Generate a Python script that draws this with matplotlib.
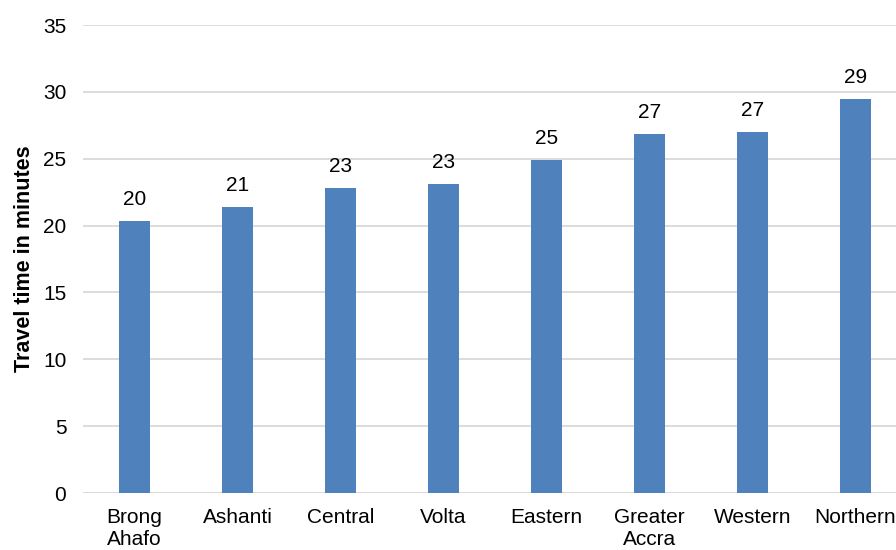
import matplotlib
matplotlib.use('Agg')
import matplotlib.pyplot as plt
import numpy as np

# --- Data ---
regions = ["Brong\nAhafo", "Ashanti", "Central", "Volta", "Eastern",
           "Greater\nAccra", "Western", "Northern"]
travel_time = [20.35, 21.4, 22.8, 23.1, 24.9, 26.85, 27.0, 29.45]
y_ticks = [0, 5, 10, 15, 20, 25, 30, 35]

BAR_COLOR = '#4f81bd'
GRID_COLOR = '#d9d9d9'
FS = 15

plt.rcParams['font.family'] = ['Liberation Sans', 'DejaVu Sans']

fig = plt.figure(figsize=(8.96, 5.5), dpi=100)
ax = fig.add_axes([0.0926, 0.1036, 0.9197, 0.8509])

x = np.arange(len(regions))
ax.bar(x, travel_time, width=0.31, color=BAR_COLOR, zorder=3)

# value labels above bars
for xi, v in zip(x, travel_time):
    ax.annotate(f"{round(v)}", (xi, v), xytext=(0, 11.5), textcoords='offset points',
                ha='center', va='baseline', fontsize=FS, color='black')

ax.set_xlim(-0.5, len(regions) - 0.5)
ax.set_ylim(0, 35)
ax.set_yticks(y_ticks)
ax.set_xticks(x)
ax.set_xticklabels(regions, fontsize=FS, linespacing=1.2)
ax.tick_params(axis='y', length=0, pad=12, labelsize=FS)
ax.tick_params(axis='x', length=0, pad=11)

ax.yaxis.grid(True, color=GRID_COLOR, linewidth=1.3, zorder=0)
ax.set_axisbelow(True)
for s in ax.spines.values():
    s.set_visible(False)
ax.axhline(0, color=GRID_COLOR, linewidth=1.3, zorder=1)

ax.set_ylabel("Travel time in minutes", fontsize=15.5, fontweight='bold', labelpad=6)

plt.savefig("out.png", dpi=100)
